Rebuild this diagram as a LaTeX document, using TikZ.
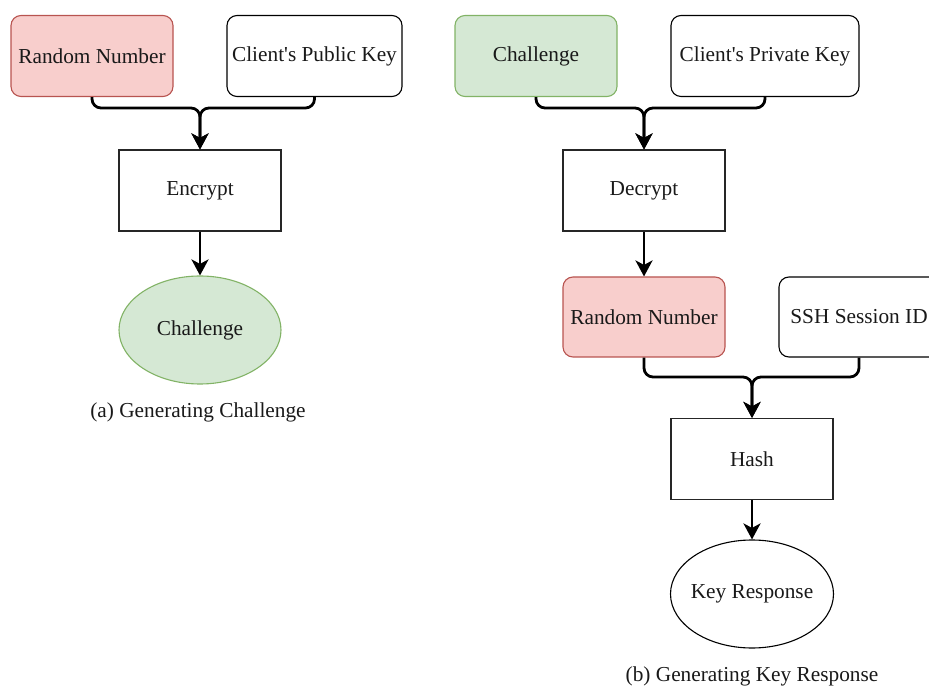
\documentclass[tikz,border=0pt]{standalone}
\usepackage{fontspec}
\setmainfont{Liberation Serif}
\usetikzlibrary{shapes.geometric,arrows.meta}
\definecolor{redfill}{HTML}{F8CECC}
\definecolor{redline}{HTML}{B85450}
\definecolor{greenfill}{HTML}{D5E8D4}
\definecolor{greenline}{HTML}{82B366}
\tikzset{
  lbl/.style={font=\fontsize{21.3}{25}\selectfont, text=black!90},
  item/.style={lbl, draw=black, line width=1.1pt, rounded corners=10pt,
    minimum height=81pt, inner sep=0pt},
  redbox/.style={item, draw=redline, fill=redfill},
  greenbox/.style={item, draw=greenline, fill=greenfill},
  opbox/.style={lbl, draw=black!85, line width=1.1pt, minimum width=162pt,
    minimum height=81pt, inner sep=0pt},
  oval/.style={lbl, ellipse, draw=black, line width=1.1pt, minimum width=162pt,
    minimum height=108pt, inner sep=0pt},
  greenoval/.style={oval, draw=greenline, fill=greenfill},
  conn/.style={line width=2.8pt, rounded corners=9pt,
    -{Stealth[length=16pt, width=17pt, inset=4.5pt]}},
  caption/.style={lbl}
}
% centred label of no width, so the ellipse keeps its own size
\newcommand{\ovaltext}[1]{\makebox[0pt]{#1}}
\begin{document}
\begin{tikzpicture}[x=1pt, y=1pt]
\useasboundingbox (0,0) rectangle (929,686);

% (a) generating the challenge
\node[redbox, minimum width=162pt] (rnA) at (92,630) {Random Number};
\node[item, minimum width=175pt] (pub) at (314.5,630) {Client\textquotesingle s Public Key};
\node[opbox] (enc) at (200,495.5) {Encrypt};
\node[greenoval] (chA) at (200,356) {\ovaltext{Challenge}};
\node[caption] (capA) at (198,274) {(a) Generating Challenge};
\coordinate (mA) at (200,578);
\draw[conn] (rnA.south) |- (mA) -- (enc.north);
\draw[conn] (pub.south) |- (mA) -- (enc.north);
\draw[conn] (enc.south) -- (chA.north);

% (b) generating the key response
\node[greenbox, minimum width=162pt] (chB) at (536,630) {Challenge};
\node[item, minimum width=188pt] (priv) at (765,630) {Client\textquotesingle s Private Key};
\node[opbox] (dec) at (644,495.5) {Decrypt};
\node[redbox, minimum width=162pt, minimum height=80pt] (rnB) at (644,369) {Random Number};
\node[item, minimum width=160pt, minimum height=80pt] (ssh) at (859,369) {SSH Session ID};
\node[opbox] (hash) at (752,227) {Hash};
\node[oval, minimum width=163pt] (kr) at (752,92) {\ovaltext{Key Response}};
\node[caption] (capB) at (752,10) {(b) Generating Key Response};
\coordinate (mB) at (644,578);
\draw[conn] (chB.south) |- (mB) -- (dec.north);
\draw[conn] (priv.south) |- (mB) -- (dec.north);
\draw[conn] (dec.south) -- (rnB.north);
\coordinate (mC) at (752,309);
\draw[conn] (rnB.south) |- (mC) -- (hash.north);
\draw[conn] (ssh.south) |- (mC) -- (hash.north);
\draw[conn] (hash.south) -- (kr.north);
\end{tikzpicture}
\end{document}
